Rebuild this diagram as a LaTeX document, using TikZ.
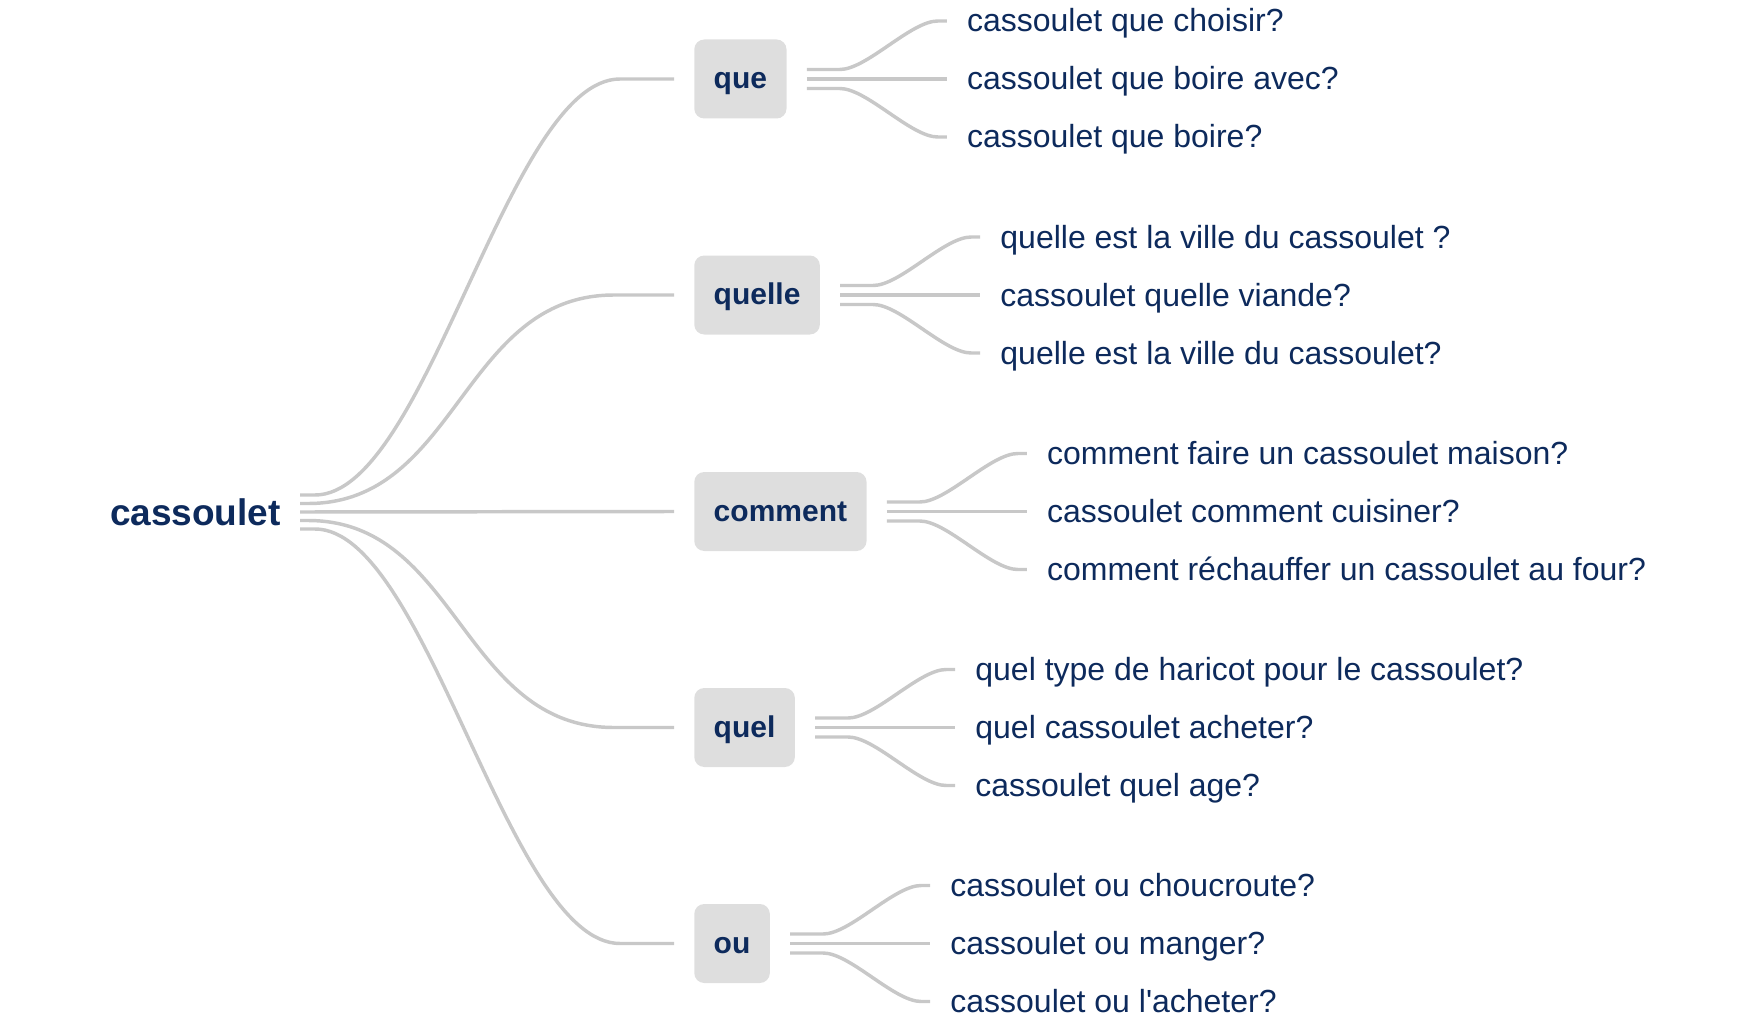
\documentclass[tikz,border=0pt]{standalone}
\usepackage{fontspec}
\setmainfont{Liberation Sans}[Ligatures=TeXOff]
\usetikzlibrary{calc}
\definecolor{navy}{HTML}{0D2A5C}
\definecolor{linegray}{HTML}{C8C8C8}
\definecolor{boxgray}{HTML}{DEDEDE}
\newcommand{\mybranch}[4]{%
  \coordinate (#1s1) at ($(#1.east)+(20,-9.5)$);
  \coordinate (#1s2) at ($(#1.east)+(20,0)$);
  \coordinate (#1s3) at ($(#1.east)+(20,9.5)$);
  \coordinate (#1e1) at ($(#1.east)+(160,-58)$);
  \coordinate (#1e2) at ($(#1.east)+(160,0)$);
  \coordinate (#1e3) at ($(#1.east)+(160,58)$);
  \draw[conn] (#1s1) -- ++(33,0) .. controls +(27,0) and +(-27,0) .. ($(#1e1)+(-9,0)$) -- (#1e1);
  \draw[conn] (#1s2) -- (#1e2);
  \draw[conn] (#1s3) -- ++(33,0) .. controls +(27,0) and +(-27,0) .. ($(#1e3)+(-9,0)$) -- (#1e3);
  \node[leaf] (#1t1) at ($(#1e1)+(20,11)$) {#2};
  \node[leaf] (#1t2) at ($(#1e2)+(20,11)$) {#3};
  \node[leaf] (#1t3) at ($(#1e3)+(20,11)$) {#4};
}
\begin{document}
\begin{tikzpicture}[x=0.75pt,y=-0.75pt,
  conn/.style={draw=linegray, line width=2.6pt},
  keybox/.style={fill=boxgray, rounded corners=7.5pt, text=navy,
    font=\bfseries\fontsize{22.5}{27}\selectfont, inner xsep=14.6pt, inner ysep=0pt,
    minimum height=59.25pt, text height=17.5pt, text depth=2.7pt, anchor=west},
  leaf/.style={text=navy, font=\fontsize{24}{29}\selectfont, inner sep=0pt, anchor=base west},
  rootst/.style={text=navy, font=\bfseries\fontsize{27.75}{33}\selectfont, inner sep=0pt, anchor=base east}]
\useasboundingbox (0,0) rectangle (1760,1020);

\node[rootst] (root) at (281,525) {cassoulet};
\coordinate (r1) at (300,495);
\coordinate (r2) at (300,503.5);
\coordinate (r3) at (300,512);
\coordinate (r4) at (300,520.5);
\coordinate (r5) at (300,529);

\node[keybox] (que) at (694,79) {que};
\node[keybox] (quelle) at (694,295) {quelle};
\node[keybox] (comment) at (694,511.5) {comment};
\node[keybox] (quel) at (694,727.5) {quel};
\node[keybox] (ou) at (694,943.5) {ou};

\coordinate (quein) at ($(que.west)+(-20,0)$);
\coordinate (quellein) at ($(quelle.west)+(-20,0)$);
\coordinate (commentin) at ($(comment.west)+(-20,0)$);
\coordinate (quelin) at ($(quel.west)+(-20,0)$);
\coordinate (ouin) at ($(ou.west)+(-20,0)$);

\draw[conn] (r1) -- ++(15,0) .. controls +(112,0) and +(-112,0) .. ($(quein)+(-54,0)$) -- (quein);
\draw[conn] (r2) -- ++(8,0) .. controls +(150,0) and +(-152,0) .. ($(quellein)+(-60,0)$) -- (quellein);
\draw[conn] (r3) -- (commentin);
\draw[conn] (r4) -- ++(8,0) .. controls +(150,0) and +(-152,0) .. ($(quelin)+(-60,0)$) -- (quelin);
\draw[conn] (r5) -- ++(15,0) .. controls +(112,0) and +(-112,0) .. ($(ouin)+(-54,0)$) -- (ouin);

\mybranch{que}{cassoulet que choisir?}{cassoulet que boire avec?}{cassoulet que boire?}
\mybranch{quelle}{quelle est la ville du cassoulet ?}{cassoulet quelle viande?}{quelle est la ville du cassoulet?}
\mybranch{comment}{comment faire un cassoulet maison?}{cassoulet comment cuisiner?}{comment réchauffer un cassoulet au four?}
\mybranch{quel}{quel type de haricot pour le cassoulet?}{quel cassoulet acheter?}{cassoulet quel age?}
\mybranch{ou}{cassoulet ou choucroute?}{cassoulet ou manger?}{cassoulet ou l'acheter?}
\end{tikzpicture}
\end{document}
